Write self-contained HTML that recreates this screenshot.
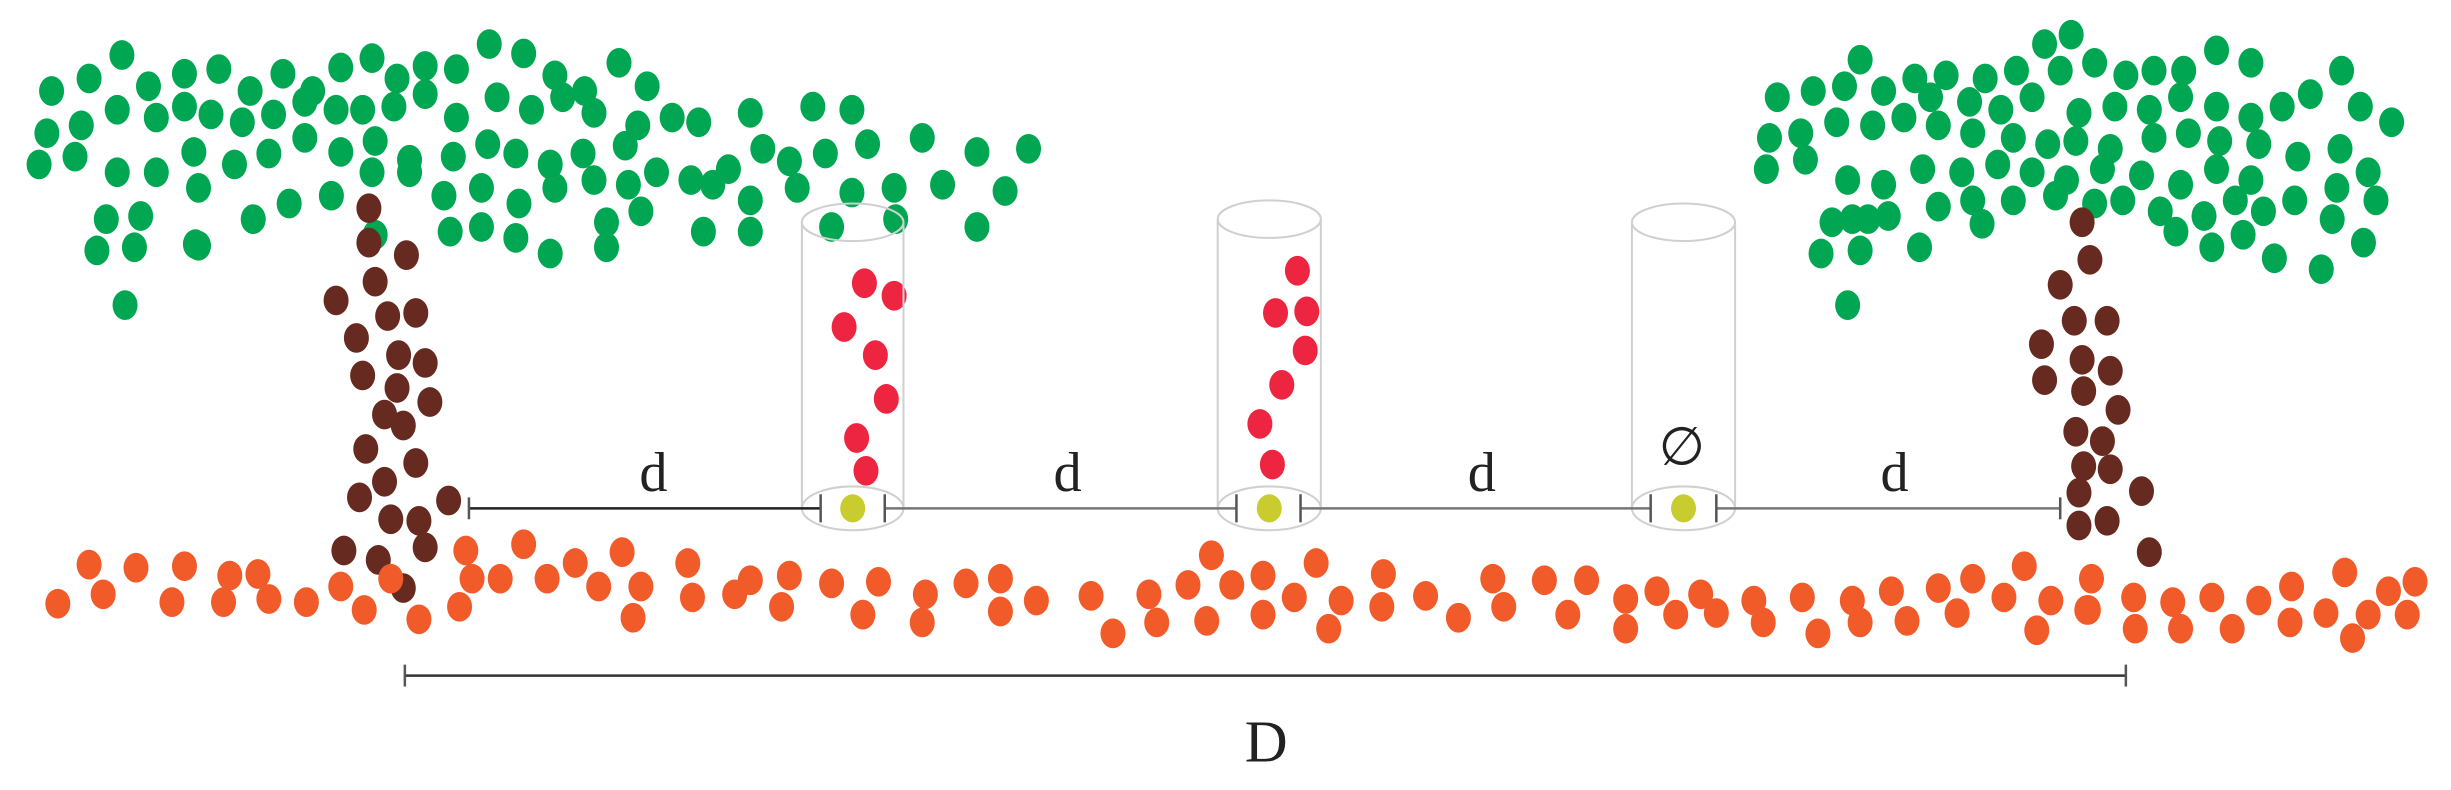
<!DOCTYPE html>
<html><head><meta charset="utf-8"><style>
html,body{margin:0;padding:0;background:#fff;}
svg{display:block}
</style></head><body>
<svg id="s" width="2451" height="790" viewBox="0 0 1568 505" xmlns="http://www.w3.org/2000/svg">
<g id="dots"></g>
<g fill="none" stroke="#d0d0d0" stroke-width="1.3">
<ellipse cx="545.5" cy="142" rx="32.5" ry="12"/><line x1="513" y1="142" x2="513" y2="325"/><line x1="578" y1="142" x2="578" y2="325"/><ellipse cx="545.5" cy="325" rx="32.5" ry="14"/>
<ellipse cx="812" cy="140" rx="33" ry="12"/><line x1="779" y1="140" x2="779" y2="325"/><line x1="845" y1="140" x2="845" y2="325"/><ellipse cx="812" cy="325" rx="33" ry="14"/>
<ellipse cx="1077" cy="142" rx="33" ry="12"/><line x1="1044" y1="142" x2="1044" y2="325"/><line x1="1110" y1="142" x2="1110" y2="325"/><ellipse cx="1077" cy="325" rx="33" ry="14"/>
</g>
<g stroke="#555" stroke-width="1.6" fill="none">
<line x1="300" y1="325" x2="525" y2="325" stroke="#222"/>
<line x1="566" y1="325" x2="791" y2="325" stroke="#777"/>
<line x1="832" y1="325" x2="1056" y2="325" stroke="#777"/>
<line x1="1098" y1="325" x2="1318" y2="325" stroke="#777"/>
<line x1="300" y1="318" x2="300" y2="332"/>
<line x1="525" y1="316" x2="525" y2="334"/><line x1="566" y1="316" x2="566" y2="334"/>
<line x1="791" y1="316" x2="791" y2="334"/><line x1="832" y1="316" x2="832" y2="334"/>
<line x1="1056" y1="316" x2="1056" y2="334"/><line x1="1098" y1="316" x2="1098" y2="334"/>
<line x1="1318" y1="318" x2="1318" y2="332"/>
<line x1="259" y1="432" x2="1360" y2="432" stroke="#333"/>
<line x1="259" y1="425" x2="259" y2="439"/><line x1="1360" y1="425" x2="1360" y2="439"/>
</g>
<g fill="#c8cc2e"><ellipse cx="545.5" cy="325" rx="8" ry="9"/><ellipse cx="812" cy="325" rx="8" ry="9"/><ellipse cx="1077" cy="325" rx="8" ry="9"/></g>
<g font-family="Liberation Serif, serif" fill="#222" text-anchor="middle">
<text x="418" y="314" font-size="36">d</text>
<text x="683" y="314" font-size="36">d</text>
<text x="948" y="314" font-size="36">d</text>
<text x="1212" y="314" font-size="36">d</text>
<text x="1076" y="297" font-size="34">∅</text>
<text x="810" y="487" font-size="38">D</text>
</g>
</svg>
<script>
var G=[[78,35],[33,58],[57,50],[95,55],[118,47],[140,44],[160,58],[181,47],[200,58],[218,43],[238,37],[254,50],[272,42],[292,44],[313,28],[335,34],[355,48],[374,58],[396,40],[414,55],[30,85],[52,80],[75,70],[100,75],[118,68],[135,73],[155,78],[175,73],[195,65],[215,70],[232,70],[252,68],[272,60],[292,75],[318,62],[340,70],[360,62],[380,72],[408,80],[430,75],[447,78],[480,72],[520,68],[545,70],[25,105],[48,100],[75,110],[100,110],[124,97],[150,105],[172,98],[195,88],[218,97],[240,90],[262,102],[290,100],[312,92],[330,98],[352,105],[373,98],[400,93],[420,110],[442,115],[466,108],[488,95],[505,103],[528,98],[555,92],[590,88],[625,97],[658,95],[68,140],[90,138],[127,120],[162,140],[185,130],[212,125],[238,110],[262,110],[284,125],[308,120],[332,130],[355,120],[380,115],[402,118],[456,118],[480,128],[510,120],[545,123],[572,120],[603,118],[643,122],[62,160],[86,158],[127,157],[240,150],[288,148],[308,145],[330,152],[352,162],[388,142],[410,135],[388,158],[450,148],[480,148],[532,145],[573,140],[625,145],[80,195],[125,156]];
var G2=[[1308,28],[1325,22],[1190,38],[1225,50],[1245,48],[1270,50],[1290,45],[1318,45],[1340,40],[1360,48],[1378,45],[1397,45],[1418,32],[1440,40],[1137,62],[1160,58],[1180,55],[1205,58],[1235,62],[1260,65],[1280,70],[1300,62],[1330,72],[1353,68],[1375,70],[1395,62],[1418,68],[1440,75],[1460,68],[1478,60],[1498,45],[1510,68],[1530,78],[1132,88],[1152,85],[1175,78],[1198,80],[1218,75],[1240,80],[1262,85],[1288,88],[1310,92],[1328,90],[1350,95],[1378,88],[1400,85],[1420,90],[1445,92],[1470,100],[1497,95],[1515,110],[1130,108],[1155,102],[1182,115],[1205,118],[1230,108],[1255,110],[1278,105],[1300,110],[1322,115],[1345,108],[1370,112],[1395,118],[1418,108],[1440,115],[1468,128],[1495,120],[1520,128],[1185,140],[1208,138],[1240,132],[1262,128],[1288,128],[1315,125],[1340,130],[1358,128],[1382,135],[1410,138],[1430,128],[1448,135],[1492,140],[1172,142],[1195,140],[1165,162],[1190,160],[1228,158],[1268,143],[1392,148],[1415,158],[1435,150],[1455,165],[1485,172],[1512,155],[1182,195]];
var B=[[236,133],[236,155],[260,163],[240,180],[215,192],[248,202],[266,200],[228,216],[255,227],[272,232],[232,240],[254,248],[275,257],[246,265],[258,272],[234,287],[266,296],[246,308],[230,318],[250,332],[268,333],[287,320],[220,352],[242,358],[272,350],[258,376],[1332,142],[1337,166],[1318,182],[1327,205],[1348,205],[1306,220],[1332,230],[1350,237],[1308,243],[1333,250],[1355,262],[1328,276],[1345,282],[1333,298],[1350,300],[1370,314],[1330,315],[1348,333],[1330,336],[1375,353]];
var R=[[553,181],[572,189],[540,209],[560,227],[567,255],[548,280],[554,301],[830,173],[816,200],[836,199],[835,224],[820,246],[806,271],[814,297]];
var O=[[57,361],[87,363],[118,362],[165,367],[218,375],[250,370],[298,352],[335,348],[368,360],[398,353],[440,360],[480,371],[505,368],[532,373],[562,372],[592,380],[618,373],[640,391],[775,355],[808,368],[842,360],[885,367],[912,381],[955,370],[988,371],[1015,371],[1060,378],[1088,380],[1122,384],[1153,382],[1185,384],[1210,378],[1240,376],[1262,370],[1295,362],[1338,370],[1365,382],[1390,385],[1415,382],[1445,384],[1466,375],[1500,366],[1528,378],[1545,372],[37,386],[66,380],[110,385],[143,385],[172,383],[196,385],[233,390],[268,396],[294,388],[320,370],[350,370],[383,375],[410,375],[443,382],[470,380],[500,388],[552,393],[590,398],[663,384],[698,381],[735,380],[760,374],[788,374],[828,382],[858,384],[884,388],[933,395],[962,388],[1003,393],[1040,383],[1072,393],[1098,392],[1128,398],[1163,405],[1190,398],[1220,397],[1252,392],[1282,382],[1312,384],[1336,390],[1366,402],[1395,402],[1428,402],[1465,398],[1488,392],[1515,393],[1540,393],[147,368],[302,370],[405,395],[640,370],[712,405],[740,398],[772,397],[808,393],[850,402],[1040,402],[1303,403],[1505,408],[1335,390]];
var g=document.getElementById('dots'),h='';
function add(a,c){a.forEach(function(p){h+='<ellipse cx="'+p[0]+'" cy="'+p[1]+'" rx="8" ry="9.5" fill="'+c+'"/>';});}
add(G,'#00a651');add(G2,'#00a651');add(B,'#662a20');add(R,'#ed2540');add(O,'#f15a29');
g.innerHTML=h;
</script>
</body></html>
